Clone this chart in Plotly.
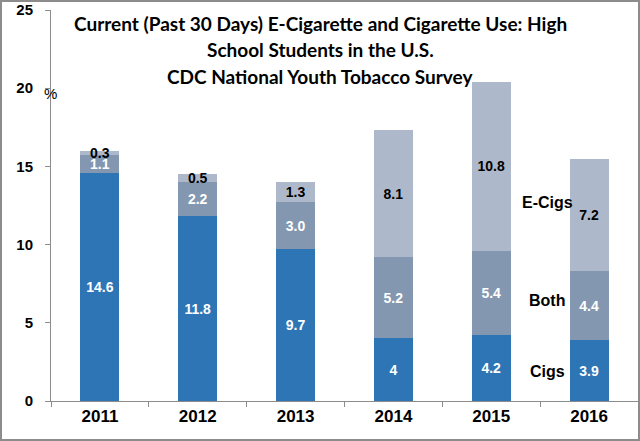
import plotly.graph_objects as go

years = ["2011", "2012", "2013", "2014", "2015", "2016"]
cigs = [14.6, 11.8, 9.7, 4.0, 4.2, 3.9]
both = [1.1, 2.2, 3.0, 5.2, 5.4, 4.4]
ecigs = [0.3, 0.5, 1.3, 8.1, 10.8, 7.2]
cigs_labels = ["14.6", "11.8", "9.7", "4", "4.2", "3.9"]
both_labels = ["1.1", "2.2", "3.0", "5.2", "5.4", "4.4"]
ecigs_labels = ["0.3", "0.5", "1.3", "8.1", "10.8", "7.2"]
title_lines = [
    "Current (Past 30 Days) E-Cigarette and Cigarette Use: High",
    "School Students in the U.S.",
    "CDC National Youth Tobacco Survey",
]
series_names = ["Cigs", "Both", "E-Cigs"]

W, H = 640, 441
ML, MR, MT, MB = 51, 2, 10, 40
PW, PH = W - ML - MR, H - MT - MB

def px_x(p):
    return (p - ML) / PW

def px_y(p):
    return (H - MB - p) / PH

fig = go.Figure()
lab_font = dict(family="Liberation Sans, Arial", size=14)
for vals, labs, name, color, tcol in [
    (cigs, cigs_labels, series_names[0], "#2E75B6", "white"),
    (both, both_labels, series_names[1], "#8497B0", "white"),
    (ecigs, ecigs_labels, series_names[2], "#ADB9CA", "black"),
]:
    fig.add_trace(go.Bar(
        x=years, y=vals, name=name, marker=dict(color=color, line=dict(width=0)),
        text=["<b>%s</b>" % t for t in labs], textposition="inside",
        insidetextanchor="middle", textangle=0,
        textfont=dict(color=tcol, **lab_font), width=0.4,
        hoverinfo="skip",
    ))

annotations = []
title_y = [23, 50, 76]
for line, py in zip(title_lines, title_y):
    annotations.append(dict(
        text="<b>%s</b>" % line, xref="paper", yref="paper",
        x=px_x(320), y=px_y(py), xanchor="center", yanchor="middle",
        showarrow=False, font=dict(family="Lato", size=19, color="black"),
    ))
annotations.append(dict(
    text="%", xref="paper", yref="paper", x=px_x(50), y=px_y(93),
    xanchor="center", yanchor="middle", showarrow=False,
    font=dict(family="Liberation Sans, Arial", size=15, color="black"),
))
legend_pos = [(371, series_names[0]), (300, series_names[1]), (203, series_names[2])]
for py, name in legend_pos:
    annotations.append(dict(
        text="<b>%s</b>" % name, xref="paper", yref="paper",
        x=px_x(547), y=px_y(py), xanchor="center", yanchor="middle",
        showarrow=False, font=dict(family="Liberation Sans, Arial", size=16, color="black"),
    ))

fig.update_layout(
    width=W, height=H, barmode="stack", showlegend=False,
    margin=dict(l=ML, r=MR, t=MT, b=MB),
    paper_bgcolor="white", plot_bgcolor="white",
    uniformtext=dict(minsize=14, mode="show"),
    annotations=annotations,
    shapes=[dict(type="rect", xref="paper", yref="paper",
                 x0=px_x(1), x1=px_x(639), y0=px_y(440), y1=px_y(1),
                 line=dict(color="#8c8c8c", width=2), fillcolor="rgba(0,0,0,0)")],
)
fig.update_xaxes(
    type="category", showgrid=False, showline=True, linecolor="#8c8c8c", linewidth=1,
    ticks="outside", tickson="boundaries", ticklen=5, tickcolor="#8c8c8c",
    tickfont=dict(family="Liberation Sans, Arial", size=17, color="black"),
    tickprefix="<b>", ticksuffix="</b>", range=[-0.5, 5.5],
)
fig.update_yaxes(
    range=[0, 25], dtick=5, showgrid=False, showline=True, linecolor="#8c8c8c",
    linewidth=1, ticks="outside", ticklen=5, tickcolor="#8c8c8c", zeroline=False,
    tickfont=dict(family="Liberation Sans, Arial", size=15, color="black"),
    tickprefix="<b>", ticksuffix="</b>",
    ticklabelstandoff=9,
)
fig.write_html(
    "out.html",
    config={"displayModeBar": False},
    post_script="document.body.style.margin='0px';document.body.style.overflow='hidden';",
)
